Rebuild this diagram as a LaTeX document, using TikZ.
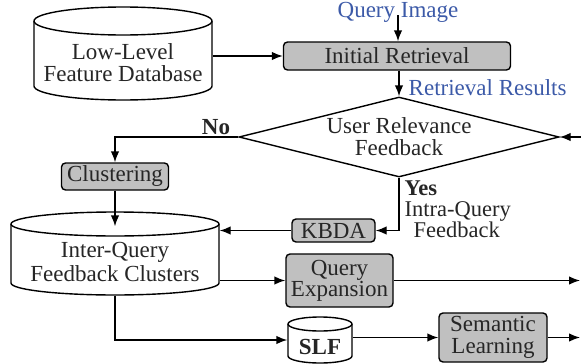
\documentclass[tikz,border=0pt]{standalone}
\usepackage{fontspec}
\setmainfont{Liberation Serif}
\usetikzlibrary{shapes.geometric,arrows.meta}
\definecolor{txt}{HTML}{262626}
\definecolor{lbl}{HTML}{3C5AA8}
\definecolor{boxfill}{HTML}{C0C0C0}
\begin{document}
\begin{tikzpicture}[x=1pt,y=1pt, line width=1.4pt,
  >={Latex[length=11pt,width=8.5pt]},
  every node/.style={font=\fontsize{23}{22}\selectfont, text=txt},
  proc/.style={draw, fill=boxfill, rounded corners=4pt, inner sep=0pt, align=center},
  cylbox/.style={inner sep=0pt, draw=none},
  cyl/.style={draw, fill=white},
  lab/.style={text=lbl},
  bf/.style={font=\fontsize{23}{22}\selectfont\bfseries},
  arr/.style={->}]
\useasboundingbox (0,0) rectangle (581,-364);

% Low-level feature database cylinder
\node[cylbox, minimum width=178, minimum height=93] (ll) at (123,-53.5) {};
\draw[cyl] (34,-21) -- (34,-86) arc[start angle=180,end angle=360,x radius=89,y radius=14]
  -- (212,-21) arc[start angle=0,end angle=180,x radius=89,y radius=14] -- cycle;
\draw (34,-21) arc[start angle=180,end angle=360,x radius=89,y radius=14];
\node[align=center] (lltext) at (123,-63) {Low-Level\\Feature Database};

% Inter-query cylinder
\node[cylbox, minimum width=208, minimum height=83] (iq) at (115,-253.5) {};
\draw[cyl] (11,-224) -- (11,-283) arc[start angle=180,end angle=360,x radius=104,y radius=12]
  -- (219,-224) arc[start angle=0,end angle=180,x radius=104,y radius=12] -- cycle;
\draw (11,-224) arc[start angle=180,end angle=360,x radius=104,y radius=12];
\node[align=center, font=\fontsize{23}{24}\selectfont] (iqtext) at (115,-262) {Inter-Query\\Feedback Clusters};

% SLF cylinder
\node[cylbox, minimum width=64, minimum height=46] (slf) at (320,-340) {};
\draw[cyl] (288,-324) -- (288,-356) arc[start angle=180,end angle=360,x radius=32,y radius=7]
  -- (352,-324) arc[start angle=0,end angle=180,x radius=32,y radius=7] -- cycle;
\draw (288,-324) arc[start angle=180,end angle=360,x radius=32,y radius=7];
\node[bf] (slftext) at (320,-347) {SLF};

% process boxes
\node[proc, minimum width=227, minimum height=28] (ir) at (397,-56) {Initial Retrieval};
\node[proc, minimum width=107, minimum height=27] (cl) at (115,-176.5) {Clustering};
\node[proc, minimum width=83, minimum height=23] (kb) at (333.5,-230.5) {KBDA};
\node[proc, minimum width=107, minimum height=53, font=\fontsize{23}{21}\selectfont] (qe) at (339.5,-280.5) {Query\\Expansion};
\node[proc, minimum width=108, minimum height=49, font=\fontsize{23}{22}\selectfont] (sl) at (493,-337.5) {Semantic\\Learning};

% decision
\node[diamond, draw, aspect=4, inner sep=0pt, minimum width=320, minimum height=80, align=center] (ud) at (399,-137) {User Relevance\\Feedback};

% labels
\node[lab] (qi) at (398,-12) {Query Image};
\node[lab, anchor=west, inner sep=0pt] (rr) at (408,-88) {Retrieval Results};
\node[bf] (no) at (216,-127) {No};
\node[align=left, anchor=west, inner sep=0pt, font=\fontsize{22.5}{21}\selectfont] (yes) at (404,-209)
  {\textbf{Yes}\\Intra-Query\\\hspace*{9pt}Feedback};

% free ends
\coordinate (rin) at (581,-137);
\coordinate (qeout) at (580,-280.5);
\coordinate (slout) at (580,-337.5);

% connectors
\draw[arr] (ll.east |- ir.west) -- (ir.west);
\draw[arr] ([yshift=-3pt]qi.center) -- (qi.center |- ir.north);
\draw[arr] (ir.south -| ud.north) -- (ud.north);
\draw[arr] (rin) -- (ud.east);
\draw[arr] (ud.west) -| (cl.north);
\draw[arr] (cl.south) -- ([yshift=-15pt]iq.north);
\draw[arr] (ud.south) |- (kb.east);
\draw[arr] (kb.west) -- (iq.east |- kb.west);
\draw[arr] (iq.east |- qe.west) -- (qe.west);
\draw[arr] (qe.east) -- (qeout);
\draw[arr] (iq.south) |- (slf.west);
\draw[arr] (slf.east |- sl.west) -- (sl.west);
\draw[arr] (sl.east) -- (slout);
\end{tikzpicture}
\end{document}
